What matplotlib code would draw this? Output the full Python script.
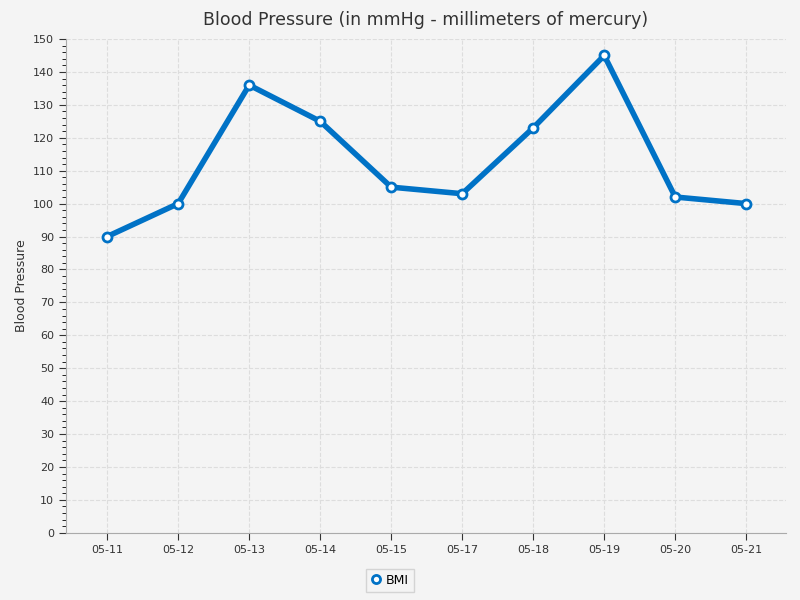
import matplotlib
matplotlib.use('Agg')
import matplotlib.pyplot as plt
from matplotlib.ticker import MultipleLocator

dates = ['05-11', '05-12', '05-13', '05-14', '05-15', '05-17', '05-18', '05-19', '05-20', '05-21']
bmi = [90, 100, 136, 125, 105, 103, 123, 145, 102, 100]

fig = plt.figure(figsize=(8, 6), dpi=100, facecolor='#f4f4f4')
ax = fig.add_axes([0.0825, 0.112, 0.9, 0.823])
ax.set_facecolor('#f4f4f4')

x = list(range(len(dates)))
ax.plot(x, bmi, color='#0072c6', lw=4, marker='o', ms=6.5, mfc='white',
        mec='#0072c6', mew=2, label='BMI', zorder=3, solid_joinstyle='round')

ax.set_xlim(-0.58, 9.56)
ax.set_ylim(0, 150)
ax.set_xticks(x)
ax.set_xticklabels(dates)
ax.yaxis.set_major_locator(MultipleLocator(10))
ax.yaxis.set_minor_locator(MultipleLocator(2))
ax.tick_params(labelsize=8, colors='#333333', length=5)
ax.tick_params(which='minor', length=3)
ax.grid(True, color='#dddddd', ls='--', lw=0.8)
for s in ['top', 'right']:
    ax.spines[s].set_visible(False)
for s in ['left', 'bottom']:
    ax.spines[s].set_color('#aaaaaa')

ax.set_ylabel('Blood Pressure', fontsize=9, color='#333333')
ax.set_title('Blood Pressure (in mmHg - millimeters of mercury)', fontsize=12.5,
             color='#333333', pad=10)
leg = ax.legend(loc='upper center', bbox_to_anchor=(0.45, -0.06), fontsize=9,
                frameon=True, edgecolor='#cccccc', facecolor='#f4f4f4', fancybox=False,
                handlelength=0.8, handletextpad=0.4, markerscale=0.9)
leg.get_lines()[0].set_linewidth(0)

fig.savefig('out.png', dpi=100, facecolor=fig.get_facecolor())
